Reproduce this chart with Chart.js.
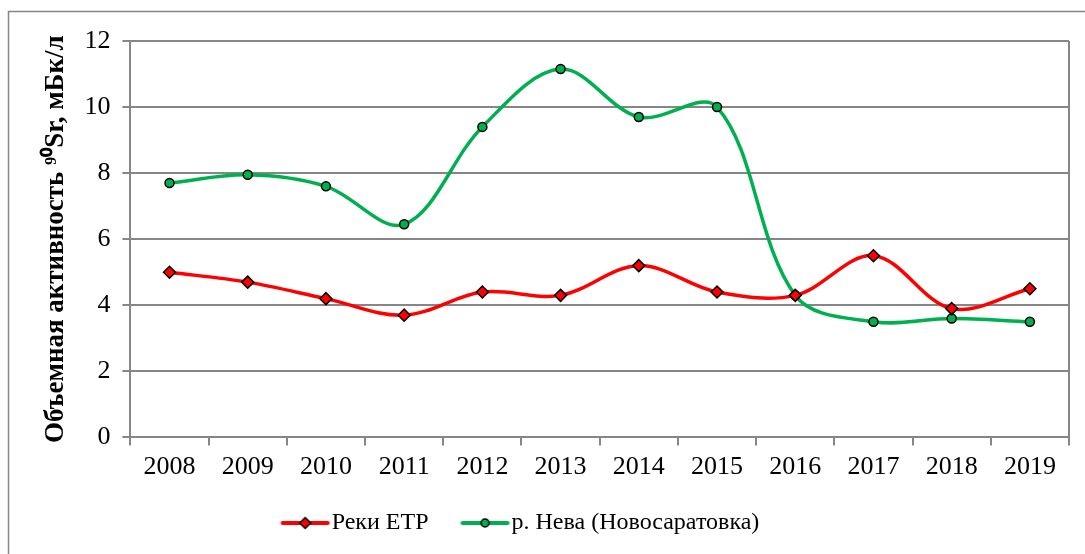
<!DOCTYPE html>
<html>
<head>
<meta charset="utf-8">
<script src="https://cdn.jsdelivr.net/npm/chart.js@4.4.1/dist/chart.umd.min.js"></script>
<style>
  html, body { margin: 0; padding: 0; background: #fff; }
  #wrap { width: 1085px; height: 554px; position: relative; }
</style>
</head>
<body>
<div id="wrap"><canvas id="c" width="1085" height="554"></canvas></div>
<script>
const years = ['2008','2009','2010','2011','2012','2013','2014','2015','2016','2017','2018','2019'];
const riversETR = [5.0, 4.7, 4.2, 3.7, 4.4, 4.3, 5.2, 4.4, 4.3, 5.5, 3.9, 4.5];
const nevaNovosaratovka = [7.7, 7.95, 7.6, 6.45, 9.4, 11.15, 9.7, 10.0, 4.3, 3.5, 3.6, 3.5];
const seriesNames = ['Реки ЕТР', 'р. Нева (Новосаратовка)'];
const yTitle = 'Объемная активность ⁹⁰Sr, мБк/л';

const FONT = "'Liberation Serif', 'Times New Roman', serif";
const GRID = '#868686';
const RED = '#FF0000';
const GREEN = '#00B050';

// legend icon: line with marker; drawn shifted right so the gap before the text is small
function legendIcon(color, style) {
  const c = document.createElement('canvas');
  c.width = 70; c.height = 14;
  const g = c.getContext('2d');
  g.strokeStyle = color; g.lineWidth = 4; g.lineCap = 'round';
  g.beginPath(); g.moveTo(22, 7); g.lineTo(67, 7); g.stroke();
  g.fillStyle = color; g.strokeStyle = '#000'; g.lineWidth = 1.5;
  g.beginPath();
  const cx = 44.5;
  if (style === 'diamond') {
    g.moveTo(cx, 1.5); g.lineTo(cx + 5.5, 7); g.lineTo(cx, 12.5); g.lineTo(cx - 5.5, 7); g.closePath();
  } else {
    g.arc(cx, 7, 4, 0, Math.PI * 2);
  }
  g.fill(); g.stroke();
  return c;
}
const icons = [legendIcon(RED, 'diamond'), legendIcon(GREEN, 'circle')];

const frame = {
  id: 'frame',
  beforeDraw(chart) {
    const ctx = chart.ctx;
    ctx.save();
    ctx.fillStyle = '#fff';
    ctx.fillRect(0, 0, chart.width, chart.height);
    ctx.strokeStyle = GRID; ctx.lineWidth = 1.5;
    ctx.strokeRect(8.5, 11.5, 1200, 700);
    ctx.restore();
  },
  afterLayout(chart) {
    // shift the legend block a little to the left, as in the original
    if (chart.legend) {
      chart.legend.left -= 36;
      chart.legend.right -= 36;
    }
  },
  beforeDatasetsDraw(chart) {
    const a = chart.chartArea, ctx = chart.ctx;
    ctx.save();
    ctx.strokeStyle = GRID; ctx.lineWidth = 2;
    ctx.beginPath(); ctx.moveTo(a.right, a.top); ctx.lineTo(a.right, a.bottom); ctx.stroke();
    ctx.restore();
  }
};

new Chart(document.getElementById('c'), {
  type: 'line',
  data: {
    labels: years,
    datasets: [
      {
        label: seriesNames[0], data: riversETR,
        borderColor: RED, backgroundColor: RED, borderWidth: 3.5,
        tension: 0.35, pointStyle: 'rectRot', pointRadius: 6,
        pointBackgroundColor: RED, pointBorderColor: '#000', pointBorderWidth: 1.5
      },
      {
        label: seriesNames[1], data: nevaNovosaratovka,
        borderColor: GREEN, backgroundColor: GREEN, borderWidth: 3.5,
        tension: 0.35, pointStyle: 'circle', pointRadius: 4.5,
        pointBackgroundColor: GREEN, pointBorderColor: '#000', pointBorderWidth: 1.5
      }
    ]
  },
  options: {
    responsive: false,
    animation: false,
    layout: { padding: { left: 34, right: 16, top: 41, bottom: 9 } },
    plugins: {
      tooltip: { enabled: false },
      legend: {
        position: 'bottom',
        labels: {
          font: { family: FONT, size: 24 },
          color: '#000',
          usePointStyle: true,
          pointStyleWidth: 48,
          padding: 23,
          generateLabels(chart) {
            const items = Chart.defaults.plugins.legend.labels.generateLabels(chart);
            items.forEach((it, i) => { it.pointStyle = icons[i]; it.rotation = 0; });
            return items;
          }
        }
      }
    },
    scales: {
      x: {
        offset: true,
        grid: { offset: true, drawOnChartArea: false, drawTicks: true, tickLength: 8, color: GRID, lineWidth: 2 },
        border: { color: GRID, width: 2 },
        ticks: { font: { family: FONT, size: 26, lineHeight: 1.1 }, color: '#000', padding: 7, maxRotation: 0 }
      },
      y: {
        min: 0, max: 12,
        ticks: { stepSize: 2, font: { family: FONT, size: 26 }, color: '#000', padding: 12 },
        grid: { color: GRID, lineWidth: 2, tickLength: 8 },
        border: { color: GRID, width: 2 },
        title: {
          display: true, text: yTitle,
          font: { family: FONT, size: 27, weight: 'bold' }, color: '#000', padding: { top: 6, bottom: 0 }
        }
      }
    }
  },
  plugins: [frame]
});
</script>
</body>
</html>
